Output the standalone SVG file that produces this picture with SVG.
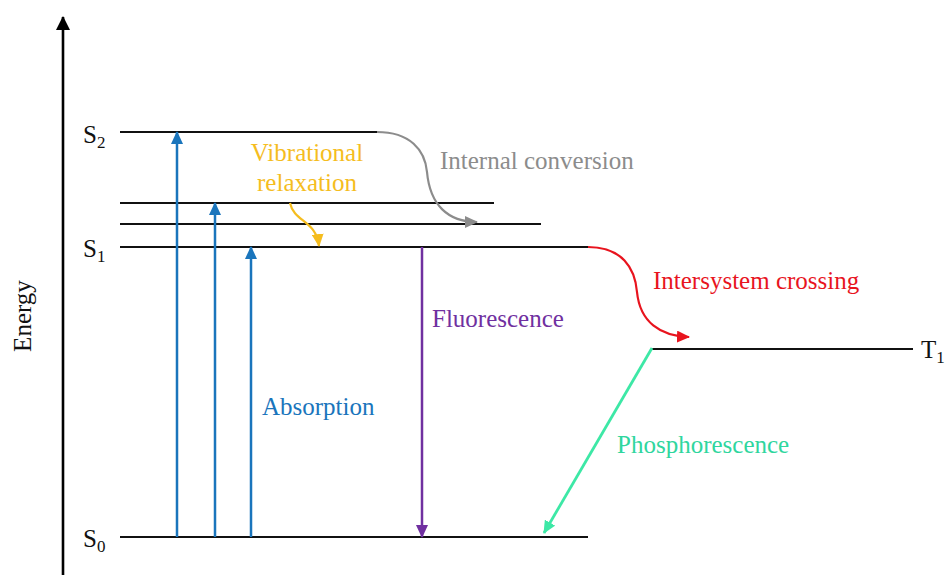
<svg xmlns="http://www.w3.org/2000/svg" width="952" height="575" viewBox="0 0 952 575">
<style>
text{font-family:"Liberation Serif","Times New Roman",serif;font-size:25px}
.lvl{stroke:#111;stroke-width:2.2;fill:none}
.lab{fill:#111}
</style>
<defs>
<marker id="ab" markerUnits="userSpaceOnUse" markerWidth="13" markerHeight="12" refX="12" refY="6" orient="auto"><path d="M0,0 L13,6 L0,12 Z" fill="#1a75bc"/></marker>
<marker id="ap" markerUnits="userSpaceOnUse" markerWidth="13" markerHeight="12" refX="12" refY="6" orient="auto"><path d="M0,0 L13,6 L0,12 Z" fill="#7030a0"/></marker>
<marker id="ag" markerUnits="userSpaceOnUse" markerWidth="13" markerHeight="12" refX="12" refY="6" orient="auto"><path d="M0,0 L13,6 L0,12 Z" fill="#8c8c8c"/></marker>
<marker id="ay" markerUnits="userSpaceOnUse" markerWidth="13" markerHeight="12" refX="12" refY="6" orient="auto"><path d="M0,0 L13,6 L0,12 Z" fill="#f5bd1f"/></marker>
<marker id="ar" markerUnits="userSpaceOnUse" markerWidth="13" markerHeight="12" refX="12" refY="6" orient="auto"><path d="M0,0 L13,6 L0,12 Z" fill="#e8141e"/></marker>
<marker id="an" markerUnits="userSpaceOnUse" markerWidth="13" markerHeight="12" refX="12" refY="6" orient="auto"><path d="M0,0 L13,6 L0,12 Z" fill="#3de8a6"/></marker>
<marker id="ak" markerUnits="userSpaceOnUse" markerWidth="14" markerHeight="14" refX="13" refY="7" orient="auto"><path d="M0,0 L14,7 L0,14 Z" fill="#000"/></marker>
</defs>

<g id="axis">
<line x1="63" y1="575" x2="63" y2="17" stroke="#000" stroke-width="2.6" marker-end="url(#ak)"/>
<text x="31" y="316" text-anchor="middle" transform="rotate(-90 31 316)" class="lab">Energy</text>
</g>

<g id="S2"><line class="lvl" x1="120" y1="132" x2="377" y2="132"/><text x="83" y="143" class="lab">S<tspan font-size="17" dy="5">2</tspan></text></g>
<g id="V1"><line class="lvl" x1="120" y1="203" x2="494" y2="203"/></g>
<g id="V2"><line class="lvl" x1="120" y1="224" x2="541" y2="224"/></g>
<g id="S1"><line class="lvl" x1="120" y1="247" x2="588" y2="247"/><text x="83" y="257" class="lab">S<tspan font-size="17" dy="5">1</tspan></text></g>
<g id="T1"><line class="lvl" x1="652" y1="349" x2="913" y2="349"/><text x="921" y="358" class="lab">T<tspan font-size="17" dy="5">1</tspan></text></g>
<g id="S0"><line class="lvl" x1="120" y1="537" x2="588" y2="537"/><text x="83" y="547" class="lab">S<tspan font-size="17" dy="5">0</tspan></text></g>

<g id="connectors" fill="none" stroke-width="2.5">
<line x1="177" y1="537" x2="177" y2="132" stroke="#1a75bc" marker-end="url(#ab)"/>
<line x1="215" y1="537" x2="215" y2="203" stroke="#1a75bc" marker-end="url(#ab)"/>
<line x1="251" y1="537" x2="251" y2="247" stroke="#1a75bc" marker-end="url(#ab)"/>
<line x1="422" y1="247" x2="422" y2="537" stroke="#7030a0" marker-end="url(#ap)"/>
<path d="M377,132 C410,132 425,150 427,172 C430,205 448,222 477,222" stroke="#8c8c8c" stroke-width="2.2" marker-end="url(#ag)"/>
<path d="M290,203 C294,222 316,220 319,246" stroke="#f5bd1f" stroke-width="2.2" marker-end="url(#ay)"/>
<path d="M588,247 C622,247 635,268 637,292 C640,322 660,336 689,337" stroke="#e8141e" stroke-width="2.2" marker-end="url(#ar)"/>
<line x1="652" y1="348" x2="544" y2="533" stroke="#3de8a6" stroke-width="2.8" marker-end="url(#an)"/>
</g>

<g id="labels">
<text x="262" y="415" fill="#1a75bc">Absorption</text>
<text x="432" y="327" fill="#7030a0">Fluorescence</text>
<text x="440" y="169" fill="#8c8c8c">Internal conversion</text>
<text x="307" y="161" text-anchor="middle" fill="#f5bd1f">Vibrational</text>
<text x="307" y="191" text-anchor="middle" fill="#f5bd1f">relaxation</text>
<text x="653" y="289" fill="#e8141e">Intersystem crossing</text>
<text x="617" y="453" fill="#2fd69e">Phosphorescence</text>
</g>
</svg>
